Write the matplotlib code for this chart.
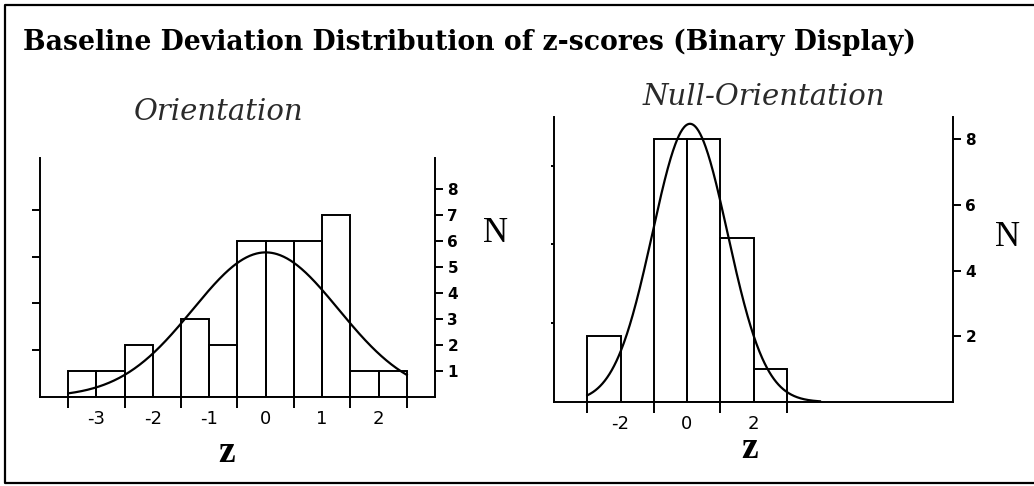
import numpy as np
import matplotlib
matplotlib.use("Agg")
import matplotlib.pyplot as plt
from matplotlib.lines import Line2D

# ---- data -------------------------------------------------------------
# Orientation: 12 bins of width 0.5 from z = -3.5 to 2.5
orient_edges = [-3.5, -3.0, -2.5, -2.0, -1.5, -1.0, -0.5, 0.0, 0.5, 1.0, 1.5, 2.0, 2.5]
orient_counts = [1, 1, 2, 0, 3, 2, 6, 6, 6, 7, 1, 1]
orient_fit = (0.0, 1.29)          # mean, sd of fitted normal
orient_curve_range = (-3.5, 2.5)
orient_xlim = (-4.0, 3.0)
orient_ylim = (0.0, 9.2)
orient_yticks = [1, 2, 3, 4, 5, 6, 7, 8]
orient_xlabels = [-3, -2, -1, 0, 1, 2]
orient_xmarks = [-3.5, -2.5, -1.5, -0.5, 0.5, 1.5, 2.5]
orient_prop_ticks = [0.05, 0.10, 0.15, 0.20]

# Null-Orientation: 6 bins of width 1 from z = -3 to 3
null_edges = [-3, -2, -1, 0, 1, 2, 3]
null_counts = [2, 0, 8, 8, 5, 1]
null_fit = (0.09, 1.13)
null_curve_range = (-3.0, 4.0)
null_xlim = (-4.0, 8.0)
null_ylim = (0.0, 8.68)
null_yticks = [2, 4, 6, 8]
null_xlabels = [-2, 0, 2]
null_xmarks = [-3, -1, 1, 3]
null_prop_ticks = [0.1, 0.2, 0.3]

W, H = 1034, 486
fig = plt.figure(figsize=(W / 100, H / 100), dpi=100)
fig.patch.set_facecolor("white")

SERIF = ["Liberation Serif", "DejaVu Serif"]
LW = 1.4


def px(x, y):
    """pixel position (from top-left) to figure fraction"""
    return x / W, 1 - y / H


def panel(rect, edges, counts, fit, crange, xlim, ylim, yticks,
          xlabels, xmarks, prop_ticks, tick_fs):
    x0, y0, x1, y1 = rect
    ax = fig.add_axes([x0 / W, 1 - y1 / H, (x1 - x0) / W, (y1 - y0) / H])
    edges = np.asarray(edges, float)
    counts = np.asarray(counts, float)
    widths = np.diff(edges)
    ax.bar(edges[:-1], counts, width=widths, align="edge", fill=False,
           edgecolor="black", linewidth=LW, zorder=2)

    mu, sd = fit
    n = counts.sum()
    zz = np.linspace(crange[0], crange[1], 400)
    yy = n * widths[0] * np.exp(-0.5 * ((zz - mu) / sd) ** 2) / (sd * np.sqrt(2 * np.pi))
    ax.plot(zz, yy, color="black", linewidth=1.6, zorder=3)

    ax.set_xlim(*xlim)
    ax.set_ylim(*ylim)
    ax.set_facecolor("none")
    ax.spines["top"].set_visible(False)
    for s in ("left", "right", "bottom"):
        ax.spines[s].set_linewidth(LW)

    # count scale on the right
    ax.yaxis.tick_right()
    ax.set_yticks(yticks)
    ax.set_yticklabels([str(t) for t in yticks], fontsize=tick_fs,
                       fontweight="bold", family="DejaVu Sans")
    ax.tick_params(axis="y", which="major", direction="out", length=6,
                   width=LW, pad=3)

    # z scale: marks at bin boundaries, labels in between
    ax.set_xticks(xlabels)
    ax.set_xticklabels([str(t) for t in xlabels], fontsize=13,
                       family="DejaVu Sans")
    ax.set_xticks(xmarks, minor=True)
    ax.tick_params(axis="x", which="major", length=0, pad=9)
    ax.tick_params(axis="x", which="minor", direction="out", length=8,
                   width=LW)

    # proportion scale on the left (unlabelled)
    sec = ax.secondary_yaxis("left", functions=(lambda v: v / n, lambda p: p * n))
    sec.set_yticks(prop_ticks)
    sec.set_yticklabels([])
    sec.spines["left"].set_visible(False)
    sec.tick_params(direction="out", length=6, width=LW)
    return ax, sec


ax1, sec1 = panel((40, 158, 435, 397), orient_edges, orient_counts, orient_fit,
                  orient_curve_range, orient_xlim, orient_ylim, orient_yticks,
                  orient_xlabels, orient_xmarks, orient_prop_ticks, 11)
ax2, sec2 = panel((554, 117, 953, 402), null_edges, null_counts, null_fit,
                  null_curve_range, null_xlim, null_ylim, null_yticks,
                  null_xlabels, null_xmarks, null_prop_ticks, 11)
sec2.tick_params(length=2)

# ---- titles and axis names -------------------------------------------
fig.text(*px(23, 50), "Baseline Deviation Distribution of z-scores (Binary Display)",
         family=["DejaVu Serif"], fontsize=19.2, fontweight="bold",
         ha="left", va="baseline")
fig.text(*px(219, 120), "Orientation", family=["DejaVu Serif"], style="italic",
         fontsize=21, ha="center", va="baseline", color="#2a2a2a")
fig.text(*px(764, 105), "Null-Orientation", family=["DejaVu Serif"], style="italic",
         fontsize=21, ha="center", va="baseline", color="#2a2a2a")

for (x, y) in [(495, 233), (1008, 237)]:
    fig.text(*px(x, y), "N", family=SERIF, fontsize=25, ha="center", va="center")
for (x, y) in [(227, 452), (750, 448)]:
    fig.text(*px(x, y), "z", family=SERIF, fontsize=27, fontweight="bold",
             ha="center", va="center")

# ---- outer frame ------------------------------------------------------
frame_x = [W / W, 5 / W, 5 / W, W / W]
frame_y = [1 - 5 / H, 1 - 5 / H, 1 - 483 / H, 1 - 483 / H]
fig.add_artist(Line2D(frame_x, frame_y, transform=fig.transFigure,
                      color="black", linewidth=1.6))

fig.savefig("out.png", dpi=100, facecolor="white")
